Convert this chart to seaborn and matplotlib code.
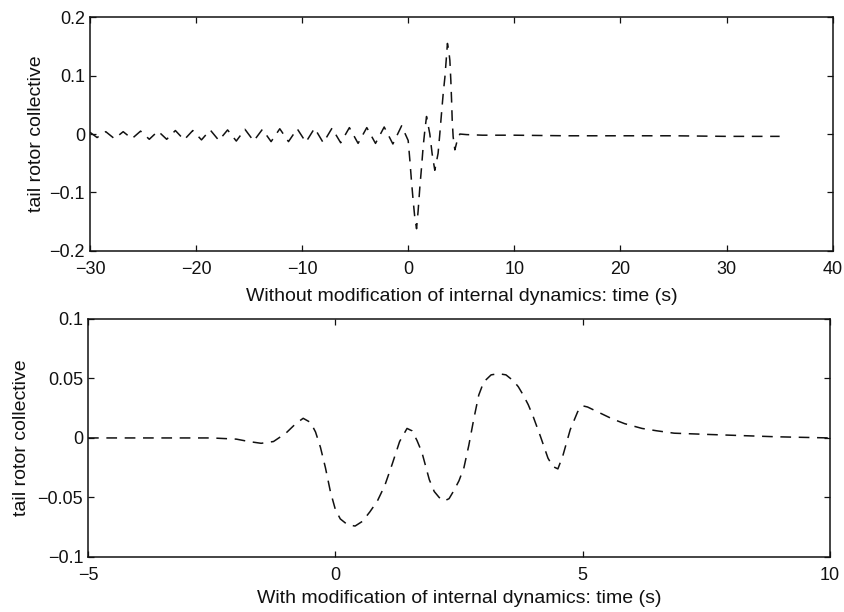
import matplotlib
matplotlib.use("Agg")
import matplotlib.pyplot as plt
import matplotlib.ticker as mticker
import pandas as pd
import seaborn as sns

# Response without modification of the internal dynamics
top_time = [-30.0, -29.33, -28.51, -27.69, -26.87, -26.05, -25.23, -24.41, -23.59,
            -22.77, -21.95, -21.13, -20.31, -19.49, -18.67, -17.85, -17.03, -16.21,
            -15.39, -14.57, -13.75, -12.93, -12.11, -11.29, -10.47, -9.65, -8.83,
            -8.01, -7.19, -6.37, -5.55, -4.73, -3.91, -3.09, -2.27, -1.45, -0.63,
            -0.01, 0.15, 0.30, 0.46, 0.61, 0.78, 0.93, 1.09, 1.25, 1.40, 1.56, 1.72,
            2.03, 2.25, 2.50, 2.81, 2.97, 3.13, 3.29, 3.45, 3.58, 3.69, 3.80, 3.92,
            4.01, 4.08, 4.14, 4.23, 4.39, 4.60, 4.86, 5.5, 7.0, 10.0, 15.0, 20.0,
            25.0, 30.0, 35.0]
top_collective = [0.003, -0.006, 0.004, -0.008, 0.004, -0.008, 0.005, -0.009, 0.005,
                  -0.009, 0.006, -0.010, 0.006, -0.010, 0.007, -0.011, 0.007, -0.012,
                  0.008, -0.012, 0.008, -0.013, 0.009, -0.013, 0.009, -0.014, 0.010,
                  -0.015, 0.010, -0.015, 0.011, -0.016, 0.011, -0.016, 0.012, -0.017, 0.014,
                  -0.011, -0.045, -0.080, -0.114, -0.142, -0.162, -0.131, -0.091, -0.057,
                  -0.022, 0.006, 0.030,
                  0.000, -0.034, -0.062, -0.033, 0.000, 0.035, 0.069, 0.097, 0.128, 0.155,
                  0.145, 0.126,
                  0.092, 0.058, 0.024, -0.005, -0.027, -0.012, 0.000, -0.001, -0.002,
                  -0.002, -0.003, -0.003, -0.003, -0.004, -0.004]

# Response with modification of the internal dynamics
bottom_time = [-5.0, -4.0, -3.0, -2.5, -2.0, -1.75, -1.5, -1.25, -1.0, -0.8, -0.65,
               -0.5, -0.4, -0.3, -0.2, -0.1, 0.0, 0.1, 0.25, 0.4, 0.55, 0.7, 0.85,
               1.0, 1.15, 1.3, 1.45, 1.55, 1.65, 1.75, 1.9, 2.0, 2.1, 2.2, 2.3, 2.4,
               2.5, 2.6, 2.7, 2.8, 2.9, 3.0, 3.15, 3.3, 3.45, 3.6, 3.7, 3.8, 3.9,
               4.0, 4.15, 4.3, 4.4, 4.5, 4.6, 4.75, 4.9, 5.0, 5.1, 5.35, 5.6, 5.85,
               6.2, 6.5, 6.85, 7.5, 8.2, 8.9, 10.0]
bottom_collective = [0.0, 0.0, 0.0, 0.0, -0.001, -0.003, -0.0045, -0.003, 0.004, 0.012,
                     0.0165, 0.013, 0.005, -0.008, -0.025, -0.045, -0.060, -0.068,
                     -0.073, -0.074, -0.070, -0.062, -0.053, -0.040, -0.022, -0.003,
                     0.008, 0.006, -0.002, -0.012, -0.035, -0.045, -0.050, -0.053,
                     -0.051, -0.044, -0.036, -0.025, -0.006, 0.016, 0.036, 0.047, 0.053,
                     0.054, 0.053, 0.048, 0.043, 0.036, 0.028, 0.018, 0.001, -0.017,
                     -0.024, -0.026, -0.015, 0.007, 0.022, 0.027, 0.026, 0.021, 0.016,
                     0.012, 0.008, 0.006, 0.004, 0.003, 0.002, 0.001, 0.000]

top_xticks = [-30, -20, -10, 0, 10, 20, 30, 40]
top_yticks = [-0.2, -0.1, 0, 0.1, 0.2]
bottom_xticks = [-5, 0, 5, 10]
bottom_yticks = [-0.1, -0.05, 0, 0.05, 0.1]

ylabel_text = "tail rotor collective"
top_xlabel = "Without modification of internal dynamics: time (s)"
bottom_xlabel = "With modification of internal dynamics: time (s)"

sns.set_theme(style="ticks")
plt.rcParams["font.family"] = ["Liberation Sans", "DejaVu Sans"]

TICK_FS = 13
LABEL_FS = 14
INK = "#111111"


def tick_text(value, _pos):
    return f"{value:g}".replace("-", "\u2212")


fig = plt.figure(figsize=(8.44, 6.12), dpi=100)
ax_top = fig.add_axes([0.1066, 0.590, 0.880, 0.382])
ax_bot = fig.add_axes([0.1043, 0.0899, 0.879, 0.389])

top_df = pd.DataFrame({"time": top_time, "collective": top_collective})
bot_df = pd.DataFrame({"time": bottom_time, "collective": bottom_collective})

panels = [
    (ax_top, top_df, top_xticks, top_yticks, (-30, 40), (-0.2, 0.2), top_xlabel),
    (ax_bot, bot_df, bottom_xticks, bottom_yticks, (-5, 10), (-0.1, 0.1), bottom_xlabel),
]

for ax, df, xt, yt, xl, yl, xlab in panels:
    sns.lineplot(data=df, x="time", y="collective", ax=ax, sort=False,
                 estimator=None, color=INK, linewidth=1.1)
    ax.lines[-1].set_dashes((7.0, 5.0))
    ax.set_xlim(*xl)
    ax.set_ylim(*yl)
    ax.set_xticks(xt)
    ax.set_yticks(yt)
    ax.xaxis.set_major_formatter(mticker.FuncFormatter(tick_text))
    ax.yaxis.set_major_formatter(mticker.FuncFormatter(tick_text))
    ax.tick_params(direction="in", length=4.5, width=0.9, top=True, right=True,
                   labelsize=TICK_FS, colors=INK)
    ax.tick_params(axis="x", pad=7)
    ax.tick_params(axis="y", pad=3.5)
    for sp in ax.spines.values():
        sp.set_visible(True)
        sp.set_linewidth(1.1)
        sp.set_color(INK)
    ax.set_xlabel(xlab, fontsize=LABEL_FS, color=INK)
    ax.set_ylabel(ylabel_text, fontsize=LABEL_FS, color=INK)
    ax.set_facecolor("white")

ax_top.xaxis.set_label_coords(0.5, -0.160)
ax_bot.xaxis.set_label_coords(0.5, -0.140)
ax_top.yaxis.set_label_coords(-0.060, 0.5)
ax_bot.yaxis.set_label_coords(-0.078, 0.5)

fig.savefig("out.png", dpi=100, facecolor="white")
